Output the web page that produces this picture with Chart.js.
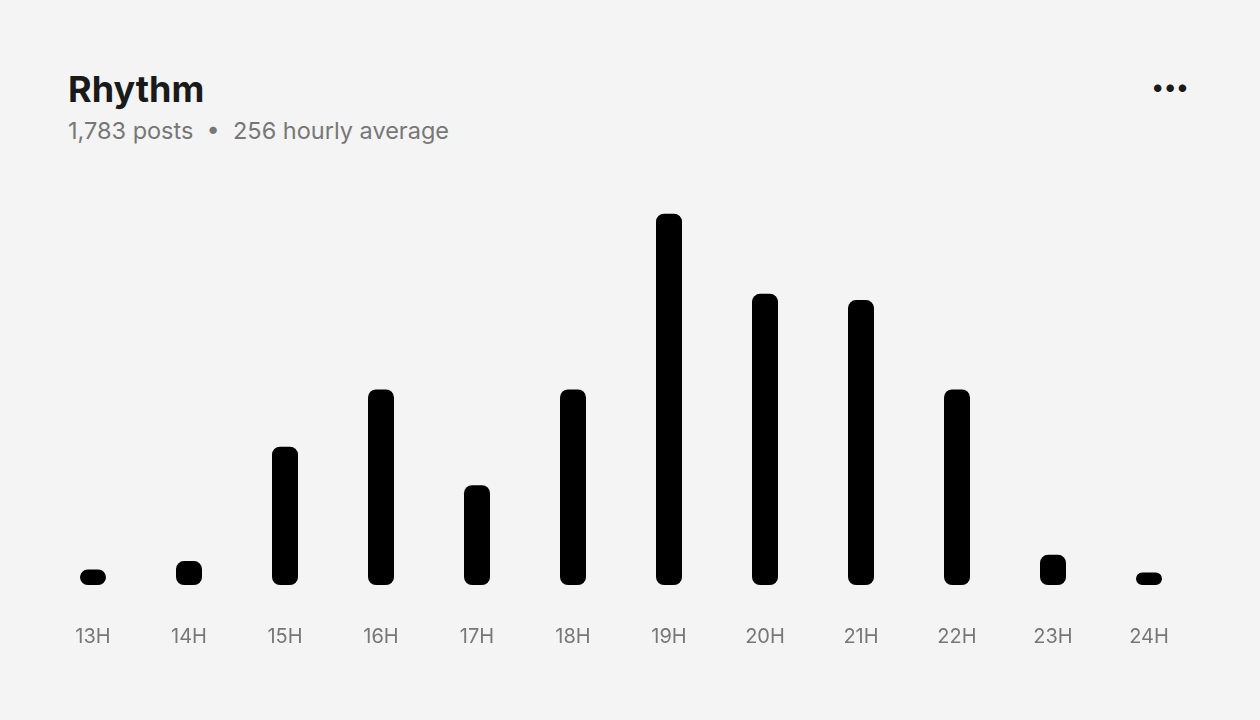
<!DOCTYPE html>
<html><head><meta charset="utf-8">
<script src="https://cdn.jsdelivr.net/npm/chart.js@4/dist/chart.umd.min.js"></script>
<style>
html,body{margin:0;padding:0;background:#f4f4f4;width:1260px;height:720px;overflow:hidden;font-family:Inter,sans-serif}
#t{position:absolute;left:68px;top:67px;font-size:36px;font-weight:700;color:#1a1a1a}
#s{position:absolute;left:68px;top:116px;font-size:23.5px;color:#777}
#d{position:absolute;left:1152px;top:72px;font-size:24px;font-weight:700;color:#1a1a1a;letter-spacing:1px}
#w{position:absolute;left:0;top:160px;width:1260px;height:548px}
</style></head><body>
<div id="t">Rhythm</div>
<div id="s">1,783 posts &nbsp;•&nbsp; 256 hourly average</div>
<div id="d">•••</div>
<div id="w"><canvas id="c"></canvas></div>
<script>
const categories=["13H","14H","15H","16H","17H","18H","19H","20H","21H","22H","23H","24H"];
const posts=[15,23,133,188,96,188,357,280,274,188,29,12];
new Chart(document.getElementById('c'),{type:'bar',
data:{labels:categories,datasets:[{data:posts,backgroundColor:'#000',borderRadius:8,borderSkipped:false,barPercentage:26/96,categoryPercentage:1}]},
options:{responsive:true,maintainAspectRatio:false,animation:false,
layout:{padding:{left:45,right:63,top:9,bottom:27}},
plugins:{legend:{display:false},tooltip:{enabled:false}},
scales:{y:{display:false,min:0,max:400},
x:{grid:{display:false},border:{display:false},ticks:{color:'#777',padding:32,font:{family:'Inter',size:20}}}}}});
</script></body></html>
